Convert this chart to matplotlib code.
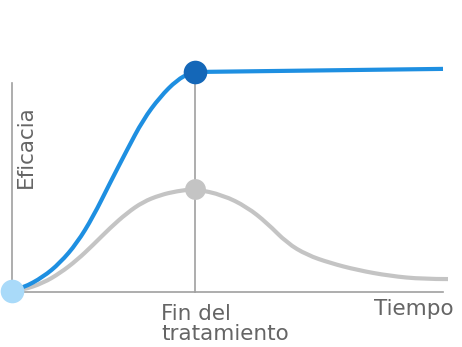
import matplotlib
matplotlib.use("Agg")
import matplotlib.pyplot as plt
from matplotlib.path import Path
from matplotlib.patches import PathPatch

# Data (time units, efficacy %)
blue_t = [0.0, 0.255, 0.719, 1.114, 1.508, 1.879, 2.274, 2.668, 3.039, 3.434, 3.828, 4.130, 4.25, 10.0]
blue_e = [0.0, 1.4, 6.3, 12.7, 21.7, 33.5, 48.9, 63.8, 77.4, 87.8, 95.5, 98.6, 99.1, 100.5]

gray_t = [0.0, 0.255, 0.719, 1.114, 1.508, 1.879, 2.274, 2.668, 3.039, 3.434, 3.828, 4.25,
          4.896, 5.452, 5.916, 6.381, 6.845, 7.378, 8.005, 8.77, 9.536, 10.116]
gray_e = [0.0, 0.5, 3.6, 8.1, 14.0, 20.8, 28.5, 35.3, 40.3, 43.4, 45.2, 46.2,
          43.4, 38.0, 30.8, 21.7, 16.3, 12.7, 9.5, 6.8, 5.4, 5.4]

end_treatment = 4.25
xlabels = ["Fin del\ntratamiento", "Tiempo"]
ylabel = "Eficacia"

plt.rcParams['font.family'] = ['DejaVu Sans']

fig = plt.figure(figsize=(4.62, 3.47), dpi=100)
ax = fig.add_axes([0, 0, 1, 1])
pxx = 431 / 10.0
pxy = 221 / 100.0
ax.set_xlim(-12 / pxx, (462 - 12) / pxx)
ax.set_ylim(-(347 - 291) / pxy, 291 / pxy)
ax.axis('off')


def smooth_path(xs, ys):
    verts = [(xs[0], ys[0])]
    codes = [Path.MOVETO]
    n = len(xs)
    for i in range(1, n - 1):
        mx = (xs[i] + xs[i + 1]) / 2
        my = (ys[i] + ys[i + 1]) / 2
        if i == n - 2:
            mx, my = xs[i + 1], ys[i + 1]
        verts += [(xs[i], ys[i]), (mx, my)]
        codes += [Path.CURVE3, Path.CURVE3]
    if n == 2:
        verts.append((xs[1], ys[1]))
        codes.append(Path.LINETO)
    return Path(verts, codes)


axis_col = '#a0a0a0'
ax.plot([0, 0], [-0.5, 94], color=axis_col, lw=1.2, zorder=1)
ax.plot([0, 10], [-0.5, -0.5], color=axis_col, lw=1.2, zorder=1)
ax.plot([end_treatment, end_treatment], [-0.5, 100], color=axis_col, lw=1.2, zorder=1)

k = blue_t.index(end_treatment)
ax.add_patch(PathPatch(smooth_path(gray_t, gray_e), fill=False, edgecolor='#c4c4c4',
                       lw=3, capstyle='butt', zorder=2))
ax.add_patch(PathPatch(smooth_path(blue_t[:k + 1], blue_e[:k + 1]),
                       fill=False, edgecolor='#1e8fe1', lw=3, capstyle='butt', zorder=3))
ax.plot(blue_t[k:], blue_e[k:], color='#1e8fe1', lw=3, solid_capstyle='butt', zorder=3)

ax.plot([end_treatment], [blue_e[k]], 'o', ms=17, color='#1467b8', mew=0, zorder=5)
ax.plot([end_treatment], [gray_e[gray_t.index(end_treatment)]], 'o', ms=15, color='#c4c4c4', mew=0, zorder=5)
ax.plot([0], [0], 'o', ms=17, color='#a9daf9', mew=0, zorder=6)

txt_col = '#656565'
fs = 15.5
ax.text((26 - 12) / pxx, (291 - 147) / pxy, ylabel, rotation=90, ha='center', va='center',
        fontsize=fs, color=txt_col)
line1, line2 = xlabels[0].split("\n")
ax.text((161 - 12) / pxx, (291 - 320) / pxy, line1, ha='left', va='baseline',
        fontsize=fs, color=txt_col)
ax.text((161 - 12) / pxx, (291 - 340) / pxy, line2, ha='left', va='baseline',
        fontsize=fs, color=txt_col)
ax.text((454 - 12) / pxx, (291 - 315) / pxy, xlabels[1], ha='right', va='baseline',
        fontsize=fs, color=txt_col)

fig.savefig('out.png', dpi=100)
